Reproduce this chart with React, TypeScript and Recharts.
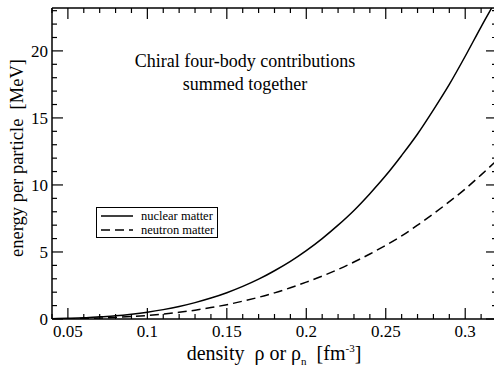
import { LineChart, Line, XAxis, YAxis, Legend } from "recharts";

const FONT = "'Liberation Serif', 'Times New Roman', serif";

// density values [fm^-3]
const density = [
  0.04, 0.05, 0.06, 0.07, 0.08, 0.09, 0.1, 0.11, 0.12, 0.13, 0.14, 0.15, 0.16,
  0.17, 0.18, 0.19, 0.2, 0.21, 0.22, 0.23, 0.24, 0.25, 0.26, 0.27, 0.28, 0.29,
  0.3, 0.31, 0.32,
];

// energy per particle [MeV]
const nuclearMatter = [
  0.02, 0.05, 0.09, 0.16, 0.24, 0.36, 0.51, 0.7, 0.93, 1.22, 1.56, 1.96, 2.43,
  2.97, 3.6, 4.3, 5.1, 6.0, 7.0, 8.1, 9.35, 10.7, 12.2, 13.8, 15.6, 17.5,
  19.6, 21.8, 23.9,
];

const neutronMatter = [
  0.01, 0.02, 0.04, 0.07, 0.12, 0.18, 0.26, 0.37, 0.5, 0.66, 0.85, 1.07, 1.33,
  1.62, 1.95, 2.33, 2.75, 3.2, 3.7, 4.25, 4.85, 5.5, 6.2, 7.0, 7.85, 8.75,
  9.7, 10.75, 11.85,
];

const xTicks = [
  0.04, 0.05, 0.06, 0.07, 0.08, 0.09, 0.1, 0.11, 0.12, 0.13, 0.14, 0.15, 0.16,
  0.17, 0.18, 0.19, 0.2, 0.21, 0.22, 0.23, 0.24, 0.25, 0.26, 0.27, 0.28, 0.29,
  0.3, 0.31, 0.32,
];
const xLabels = ["0.05", "0.1", "0.15", "0.2", "0.25", "0.3"];

const yTicks = [
  0, 1, 2, 3, 4, 5, 6, 7, 8, 9, 10, 11, 12, 13, 14, 15, 16, 17, 18, 19, 20, 21,
  22, 23,
];
const yLabels = ["0", "5", "10", "15", "20"];

const seriesOrder = ["nuclear", "neutron"];
const seriesNames: Record<string, string> = {
  nuclear: "nuclear matter",
  neutron: "neutron matter",
};
const dashes: Record<string, string | undefined> = {
  nuclear: undefined,
  neutron: "9 5",
};

const data = density.map((d, i) => ({
  density: d,
  nuclear: nuclearMatter[i],
  neutron: neutronMatter[i],
}));

const MAJOR = 11;
const MINOR = 5;

const XTick = ({ x, y, payload, top, labels }: any) => {
  const label = String(payload.value);
  const major = xLabels.includes(label);
  const len = major ? MAJOR : MINOR;
  return (
    <g>
      <line
        x1={x}
        x2={x}
        y1={y}
        y2={top ? y + len : y - len}
        stroke="#000"
        strokeWidth={1.2}
      />
      {labels && major && (
        <text
          x={x}
          y={y + 18}
          textAnchor="middle"
          style={{ fontFamily: FONT, fontSize: 17, fill: "#000" }}
        >
          {label}
        </text>
      )}
    </g>
  );
};

const YTick = ({ x, y, payload, right, labels }: any) => {
  const label = String(payload.value);
  const major = yLabels.includes(label);
  const len = major ? MAJOR : MINOR;
  return (
    <g>
      <line
        x1={x}
        x2={right ? x - len : x + len}
        y1={y}
        y2={y}
        stroke="#000"
        strokeWidth={1.2}
      />
      {labels && major && (
        <text
          x={x - 4}
          y={y + 6}
          textAnchor="end"
          style={{ fontFamily: FONT, fontSize: 17, fill: "#000" }}
        >
          {label}
        </text>
      )}
    </g>
  );
};

const LegendBox = ({ payload }: any) => {
  const items = (payload || [])
    .filter((e: any) => e.type !== "none" && seriesOrder.includes(e.dataKey))
    .sort(
      (a: any, b: any) =>
        seriesOrder.indexOf(a.dataKey) - seriesOrder.indexOf(b.dataKey)
    );
  return (
    <div
      style={{
        border: "1px solid #000",
        background: "#fff",
        width: 120,
        height: 28,
        paddingTop: 1,
        boxSizing: "content-box",
      }}
    >
      {items.map((entry: any, i: number) => (
        <div
          key={i}
          style={{ display: "flex", alignItems: "center", height: 14 }}
        >
          <svg width={44} height={14}>
            <line
              x1={4}
              x2={36}
              y1={7}
              y2={7}
              stroke="#000"
              strokeWidth={1.5}
              strokeDasharray={dashes[entry.dataKey]}
            />
          </svg>
          <span
            style={{
              fontFamily: FONT,
              fontSize: 12.5,
              lineHeight: "14px",
              color: "#000",
            }}
          >
            {entry.value}
          </span>
        </div>
      ))}
    </div>
  );
};

const axisLine = { stroke: "#000", strokeWidth: 1.5 };

export default function App() {
  return (
    <div
      style={{
        position: "absolute",
        left: 0,
        top: 0,
        width: 494,
        height: 368,
        overflow: "hidden",
        background: "#fff",
        fontFamily: FONT,
      }}
    >
      <LineChart
        width={500}
        height={368}
        data={data}
        margin={{ top: 7, right: 2, bottom: 48, left: 51 }}
      >
        <XAxis
          dataKey="density"
          type="number"
          domain={[0.04, 0.32]}
          ticks={xTicks}
          interval={0}
          height={1}
          tickSize={0}
          tickMargin={0}
          axisLine={axisLine}
          tick={<XTick labels />}
        />
        <XAxis
          xAxisId="top"
          orientation="top"
          dataKey="density"
          type="number"
          domain={[0.04, 0.32]}
          ticks={xTicks}
          interval={0}
          height={1}
          tickSize={0}
          tickMargin={0}
          axisLine={axisLine}
          tick={<XTick top />}
        />
        <YAxis
          type="number"
          domain={[0, 23.2]}
          allowDataOverflow
          ticks={yTicks}
          interval={0}
          width={1}
          tickSize={0}
          tickMargin={0}
          axisLine={axisLine}
          tick={<YTick labels />}
        />
        <YAxis
          yAxisId="right"
          orientation="right"
          type="number"
          domain={[0, 23.2]}
          allowDataOverflow
          ticks={yTicks}
          interval={0}
          width={1}
          tickSize={0}
          tickMargin={0}
          axisLine={axisLine}
          tick={<YTick right />}
        />
        <Legend
          layout="vertical"
          align="center"
          verticalAlign="middle"
          content={<LegendBox />}
          wrapperStyle={{ position: "absolute", left: 96, top: 207, width: "auto" }}
        />
        <Line
          dataKey="nuclear"
          name={seriesNames.nuclear}
          type="monotone"
          stroke="#000"
          strokeWidth={1.5}
          dot={false}
          isAnimationActive={false}
        />
        <Line
          dataKey="neutron"
          name={seriesNames.neutron}
          type="monotone"
          stroke="#000"
          strokeWidth={1.5}
          strokeDasharray={dashes.neutron}
          dot={false}
          isAnimationActive={false}
        />
        <Line
          dataKey="nuclear"
          xAxisId="top"
          yAxisId="right"
          stroke="none"
          dot={false}
          activeDot={false}
          legendType="none"
          isAnimationActive={false}
        />
      </LineChart>

      <div
        style={{
          position: "absolute",
          left: 245,
          top: 50,
          transform: "translateX(-50%)",
          fontFamily: FONT,
          fontSize: 18,
          lineHeight: "23px",
          textAlign: "center",
          whiteSpace: "nowrap",
          color: "#000",
        }}
      >
        Chiral four-body contributions
        <br />
        summed together
      </div>

      <div
        style={{
          position: "absolute",
          left: 274,
          top: 342,
          transform: "translateX(-50%)",
          fontFamily: FONT,
          fontSize: 20,
          whiteSpace: "nowrap",
          color: "#000",
        }}
      >
        density&nbsp; ρ or ρ<sub style={{ fontSize: 11 }}>n</sub>&nbsp; [fm
        <sup style={{ fontSize: 11 }}>-3</sup>]
      </div>

      <div
        style={{
          position: "absolute",
          left: 17,
          top: 158,
          transform: "translate(-50%, -50%) rotate(-90deg)",
          fontFamily: FONT,
          fontSize: 18.5,
          whiteSpace: "nowrap",
          color: "#000",
        }}
      >
        energy per particle&nbsp; [MeV]
      </div>
    </div>
  );
}
